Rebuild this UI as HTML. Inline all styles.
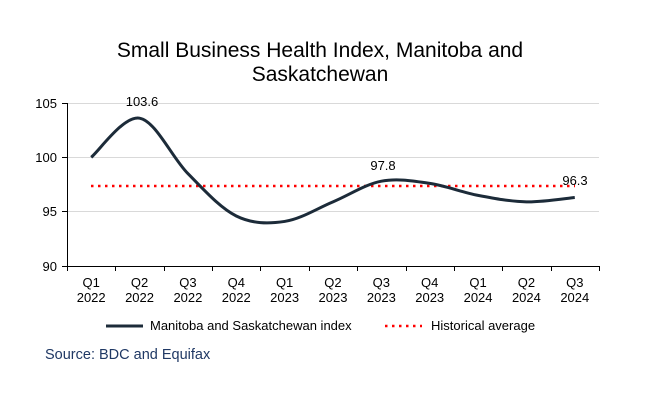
<!DOCTYPE html>
<html><head><style>body{margin:0;background:#fff}svg{font-family:"Liberation Sans",Arial,sans-serif}</style></head>
<body>
<svg width="656" height="412" viewBox="0 0 656 412" xmlns="http://www.w3.org/2000/svg">
<rect width="656" height="412" fill="#fff"/>
<text x="320" y="57" font-size="21" text-anchor="middle" fill="#000">Small Business Health Index, Manitoba and</text>
<text x="320" y="81" font-size="21" text-anchor="middle" fill="#000">Saskatchewan</text>
<g stroke="#d9d9d9" stroke-width="1">
<line x1="67" y1="103.5" x2="599" y2="103.5"/><line x1="67" y1="157.5" x2="599" y2="157.5"/><line x1="67" y1="211.5" x2="599" y2="211.5"/>
</g>
<g stroke="#000" stroke-width="1">
<line x1="67.5" y1="103" x2="67.5" y2="266"/><line x1="67" y1="266.5" x2="599" y2="266.5"/>
<line x1="62" y1="103.5" x2="67" y2="103.5"/><line x1="62" y1="157.5" x2="67" y2="157.5"/><line x1="62" y1="211.5" x2="67" y2="211.5"/><line x1="62" y1="266.5" x2="67" y2="266.5"/>
</g>
<g id="ticks" stroke="#000"></g>
<g font-size="13" text-anchor="end" fill="#000">
<text x="57" y="108">105</text><text x="57" y="162">100</text><text x="57" y="216">95</text><text x="57" y="271">90</text>
</g>
<g id="xl" font-size="13" text-anchor="middle" fill="#000"></g>
<line x1="91" y1="186" x2="575" y2="186" stroke="#ff0000" stroke-width="2.5" stroke-dasharray="2.5 4.5" stroke-linecap="butt"/>
<path id="ln" fill="none" stroke="#1c2b39" stroke-width="3"/>
<g font-size="13" text-anchor="middle" fill="#000">
<text x="142" y="106">103.6</text><text x="383" y="170">97.8</text><text x="575" y="185">96.3</text>
</g>
<line x1="106" y1="326" x2="143" y2="326" stroke="#1c2b39" stroke-width="3"/>
<text x="150" y="330" font-size="13" fill="#000">Manitoba and Saskatchewan index</text>
<line x1="385" y1="326" x2="422" y2="326" stroke="#ff0000" stroke-width="2.5" stroke-dasharray="2.5 4.5"/>
<text x="431" y="330" font-size="13" fill="#000">Historical average</text>
<text x="45" y="359" font-size="14.5" fill="#1f3864">Source: BDC and Equifax</text>
</svg>
<script>
var v=[100,103.6,98.5,94.6,94.1,95.9,97.8,97.6,96.5,95.9,96.3];
var labs=[["Q1","2022"],["Q2","2022"],["Q3","2022"],["Q4","2022"],["Q1","2023"],["Q2","2023"],["Q3","2023"],["Q4","2023"],["Q1","2024"],["Q2","2024"],["Q3","2024"]];
var w=48.36,P=[];
for(var i=0;i<11;i++){P.push([67+w*(i+0.5),266-(v[i]-90)*10.87]);}
var d="M"+P[0][0]+","+P[0][1];
for(var i=0;i<10;i++){var a=P[Math.max(i-1,0)],b=P[i],c=P[i+1],e=P[Math.min(i+2,10)];
d+=" C"+(b[0]+(c[0]-a[0])/6)+","+(b[1]+(c[1]-a[1])/6)+" "+(c[0]-(e[0]-b[0])/6)+","+(c[1]-(e[1]-b[1])/6)+" "+c[0]+","+c[1];}
document.getElementById("ln").setAttribute("d",d);
var t="",x="";
for(var i=0;i<=11;i++){var xx=Math.round(67+w*i)+0.5;t+='<line x1="'+xx+'" y1="266" x2="'+xx+'" y2="271"/>';}
for(var i=0;i<11;i++){var cx=67+w*(i+0.5);x+='<text x="'+cx+'" y="287">'+labs[i][0]+'</text><text x="'+cx+'" y="302">'+labs[i][1]+'</text>';}
document.getElementById("ticks").innerHTML=t;document.getElementById("xl").innerHTML=x;
</script>
</body></html>
